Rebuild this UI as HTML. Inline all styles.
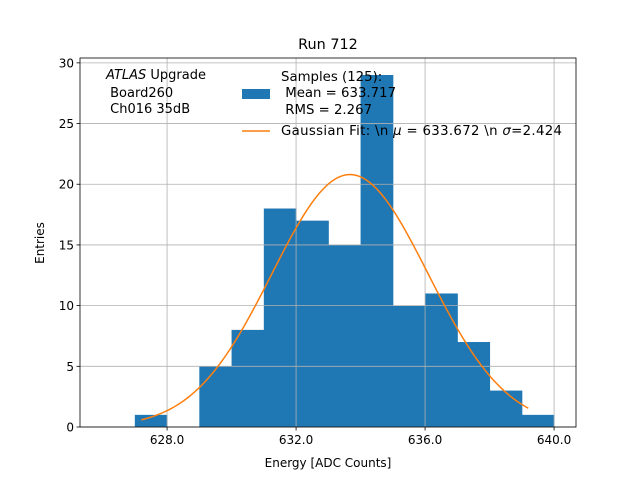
<!DOCTYPE html>
<html><head><meta charset="utf-8"><style>
body{margin:0;background:#fff;}
svg{display:block;font-family:"DejaVu Sans","Liberation Sans",sans-serif;}
</style></head><body>
<svg id="chart" width="640" height="480">
<rect width="640" height="480" fill="#fff"/>
<g id="bars"></g>
<g id="grid"></g>
<g id="fit"></g>
<g id="axes"></g>
<text x="328" y="49" font-size="14.4" text-anchor="middle">Run 712</text>
<text x="328" y="467" font-size="12" text-anchor="middle">Energy [ADC Counts]</text>
<text transform="translate(44,243) rotate(-90)" font-size="12" text-anchor="middle">Entries</text>
<g font-size="13">
<text x="106" y="79"><tspan font-style="italic">ATLAS</tspan> Upgrade</text>
<text x="106" y="97">&#160;Board260</text>
<text x="106" y="113">&#160;Ch016 35dB</text>
</g>
<g font-size="13.3">
<rect x="242" y="89" width="28" height="10" fill="#1f77b4"/>
<text x="281" y="81">Samples (125):</text>
<text x="281" y="97">&#160;Mean = 633.717</text>
<text x="281" y="114">&#160;RMS = 2.267</text>
<line x1="242" y1="131" x2="270" y2="131" stroke="#ff7f0e" stroke-width="1.5"/>
<text x="281" y="135" textLength="281" lengthAdjust="spacing">Gaussian Fit: \n <tspan font-style="italic">μ</tspan> = 633.672 \n <tspan font-style="italic">σ</tspan>=2.424</text>
</g>
</svg>
<script>
const binEdges=[627,628,629,630,631,632,633,634,635,636,637,638,639,640];
const counts=[1,0,5,8,18,17,15,29,10,11,7,3,1];
const xTicks=[628,632,636,640];
const xTickLabels=["628.0","632.0","636.0","640.0"];
const yTicks=[0,5,10,15,20,25,30];
const fitParams=[20.8,633.672,2.424];
const fitRange=[627.2,639.2];
const L=80,R=576,T=58,B=427;
const xMin=625.3,xMax=640.68,yMin=0,yMax=30.4;
const X=v=>L+(v-xMin)/(xMax-xMin)*(R-L);
const Y=v=>B-(v-yMin)/(yMax-yMin)*(B-T);
const NS="http://www.w3.org/2000/svg";
function mk(t,a,p){const e=document.createElementNS(NS,t);for(const k in a)e.setAttribute(k,a[k]);p.appendChild(e);return e;}
const grid=document.getElementById('grid'),bars=document.getElementById('bars'),fit=document.getElementById('fit'),axes=document.getElementById('axes');
xTicks.forEach((t,i)=>{
 const g=mk('line',{x1:X(t),x2:X(t),y1:T,y2:B,stroke:'#b0b0b0','stroke-width':0.8},grid);
 
 
 mk('line',{x1:X(t),x2:X(t),y1:B,y2:B+3.5,stroke:'#000','stroke-width':0.8},axes);
 const tx=mk('text',{x:X(t),y:B+17,'font-size':12,'text-anchor':'middle'},axes);
 tx.textContent=xTickLabels[i];
 
 
});
yTicks.forEach(t=>{
 const g=mk('line',{x1:L,x2:R,y1:Y(t),y2:Y(t),stroke:'#b0b0b0','stroke-width':0.8},grid);
 
 
 mk('line',{x1:L-3.5,x2:L,y1:Y(t),y2:Y(t),stroke:'#000','stroke-width':0.8},axes);
 const tx=mk('text',{x:L-6,y:Y(t)+4.5,'font-size':12,'text-anchor':'end'},axes);
 tx.textContent=t;
 
 
});
counts.forEach((c,i)=>{
 if(c<=0)return;
 const r=mk('rect',{x:X(binEdges[i]),y:Y(c),width:X(binEdges[i+1])-X(binEdges[i])+0.5,height:Y(0)-Y(c),fill:'#1f77b4'},bars);
 
 
});
let pts=[];
for(let k=0;k<=100;k++){const x=fitRange[0]+(fitRange[1]-fitRange[0])*k/100;
 const y=fitParams[0]*Math.exp(-Math.pow(x-fitParams[1],2)/(2*fitParams[2]*fitParams[2]));
 pts.push(X(x).toFixed(2)+','+Y(y).toFixed(2));}
const pl=mk('polyline',{points:pts.join(' '),fill:'none',stroke:'#ff7f0e','stroke-width':1.5},fit);


const fr=mk('rect',{x:L,y:T,width:R-L,height:B-T,fill:'none',stroke:'#000','stroke-width':0.8},axes);


</script>
</body></html>
